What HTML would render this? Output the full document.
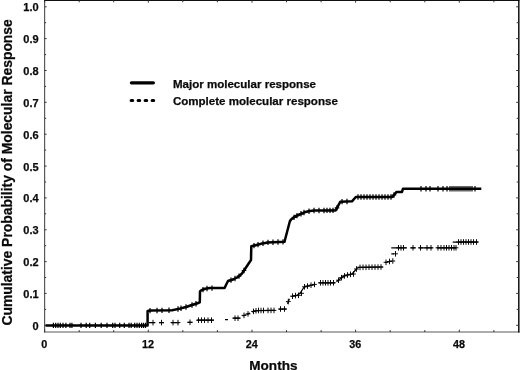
<!DOCTYPE html>
<html lang="en">
<head>
<meta charset="utf-8">
<title>Cumulative Probability of Molecular Response</title>
<style>
html,body{margin:0;padding:0;background:#fff;}
body{width:520px;height:370px;position:relative;overflow:hidden;font-family:"Liberation Sans",Arial,sans-serif;}
</style>
</head>
<body>
<svg width="520" height="370" viewBox="0 0 520 370" style="position:absolute;left:0;top:0">
<rect x="0" y="0" width="520" height="370" fill="#fff"/>
<line x1="44.6" y1="0" x2="44.6" y2="332.5" stroke="#5a5a5a" stroke-width="1.2"/>
<line x1="44" y1="332" x2="519.5" y2="332" stroke="#5a5a5a" stroke-width="1.2"/>
<line x1="44" y1="0.2" x2="519.5" y2="0.2" stroke="#111" stroke-width="1.4"/>
<line x1="518.8" y1="0" x2="518.8" y2="332.6" stroke="#111" stroke-width="1.5"/>
<path d="M44.6 325.3h2.0M518.8 325.3h-2.6M44.6 309.4h1.5M518.8 309.4h-2.1M44.6 293.4h2.0M518.8 293.4h-2.6M44.6 277.5h1.5M518.8 277.5h-2.1M44.6 261.6h2.0M518.8 261.6h-2.6M44.6 245.7h1.5M518.8 245.7h-2.1M44.6 229.8h2.0M518.8 229.8h-2.6M44.6 213.8h1.5M518.8 213.8h-2.1M44.6 197.9h2.0M518.8 197.9h-2.6M44.6 182.0h1.5M518.8 182.0h-2.1M44.6 166.1h2.0M518.8 166.1h-2.6M44.6 150.1h1.5M518.8 150.1h-2.1M44.6 134.2h2.0M518.8 134.2h-2.6M44.6 118.3h1.5M518.8 118.3h-2.1M44.6 102.3h2.0M518.8 102.3h-2.6M44.6 86.4h1.5M518.8 86.4h-2.1M44.6 70.5h2.0M518.8 70.5h-2.6M44.6 54.6h1.5M518.8 54.6h-2.1M44.6 38.6h2.0M518.8 38.6h-2.6M44.6 22.7h1.5M518.8 22.7h-2.1M44.6 6.8h2.0M518.8 6.8h-2.6M44.6 332v-2.3M44.6 0.4v2.3M79.2 332v-1.9M79.2 0.4v1.9M113.7 332v-1.9M113.7 0.4v1.9M148.3 332v-2.3M148.3 0.4v2.3M182.8 332v-1.9M182.8 0.4v1.9M217.4 332v-1.9M217.4 0.4v1.9M252.0 332v-2.3M252.0 0.4v2.3M286.5 332v-1.9M286.5 0.4v1.9M321.1 332v-1.9M321.1 0.4v1.9M355.6 332v-2.3M355.6 0.4v2.3M390.2 332v-1.9M390.2 0.4v1.9M424.8 332v-1.9M424.8 0.4v1.9M459.3 332v-2.3M459.3 0.4v2.3M493.9 332v-1.9M493.9 0.4v1.9" stroke="#333" stroke-width="1" fill="none"/>
<g font-family="'Liberation Sans', Arial, sans-serif" font-weight="700" fill="#0a0a0a" stroke="#0a0a0a" stroke-width="0.25">
<text x="38.6" y="329.7" font-size="11" text-anchor="end">0</text>
<text x="38.6" y="297.8" font-size="11" text-anchor="end">0.1</text>
<text x="38.6" y="266.0" font-size="11" text-anchor="end">0.2</text>
<text x="38.6" y="234.2" font-size="11" text-anchor="end">0.3</text>
<text x="38.6" y="202.3" font-size="11" text-anchor="end">0.4</text>
<text x="38.6" y="170.5" font-size="11" text-anchor="end">0.5</text>
<text x="38.6" y="138.6" font-size="11" text-anchor="end">0.6</text>
<text x="38.6" y="106.8" font-size="11" text-anchor="end">0.7</text>
<text x="38.6" y="74.9" font-size="11" text-anchor="end">0.8</text>
<text x="38.6" y="43.0" font-size="11" text-anchor="end">0.9</text>
<text x="38.6" y="11.2" font-size="11" text-anchor="end">1.0</text>
<text x="44.3" y="347.7" font-size="10.8" text-anchor="middle">0</text>
<text x="148.0" y="347.7" font-size="10.8" text-anchor="middle">12</text>
<text x="251.7" y="347.7" font-size="10.8" text-anchor="middle">24</text>
<text x="355.3" y="347.7" font-size="10.8" text-anchor="middle">36</text>
<text x="459.0" y="347.7" font-size="10.8" text-anchor="middle">48</text>
<text x="273.4" y="369.6" font-size="13.55" text-anchor="middle">Months</text>
<text transform="translate(11.6 172.4) rotate(-90)" font-size="13.9" text-anchor="middle">Cumulative Probability of Molecular Response</text>
<text x="172.9" y="87.6" font-size="11.55">Major molecular response</text>
<text x="172.9" y="105" font-size="11.55">Complete molecular response</text>
</g>
<line x1="131.4" y1="82.8" x2="153.4" y2="82.8" stroke="#000" stroke-width="3.2" stroke-linecap="round"/>
<line x1="131.1" y1="100.6" x2="153.8" y2="100.6" stroke="#000" stroke-width="3" stroke-linecap="round" stroke-dasharray="1.6 5.4"/>
<polyline points="45.6,325.4 147.6,325.4 147.6,311.0 150.0,310.6 172.0,310.3 180.0,308.6 186.0,307.0 192.0,305.0 198.0,303.0 199.8,302.3 200.0,291.2 202.0,290.0 205.0,288.7 210.0,288.1 224.6,288.1 226.0,285.0 228.0,281.0 233.0,279.5 238.0,277.0 242.0,273.5 251.0,260.0 251.3,246.3 262.6,243.4 268.0,242.4 284.5,241.8 289.8,221.5 291.0,219.5 296.0,216.0 304.5,212.3 310.0,211.0 314.0,210.5 335.6,210.4 340.4,201.7 352.0,201.3 355.8,197.0 392.3,197.0 396.6,191.9 402.0,191.9 403.0,188.7 481.3,188.7" fill="none" stroke="#000" stroke-width="2.5" stroke-linejoin="round"/>
<path d="M149.0 322.6L155.0 322.6M159.0 322.6L164.0 322.6M171.0 322.6L179.0 322.6M187.5 322.3L192.5 322.3M197.0 320.2L214.0 320.2M225.0 319.6L228.0 319.6M232.7 318.2L240.4 318.2M242.5 315.8L246.0 314.8M246.5 314.4L250.0 313.2M252.0 311.8L257.0 310.5M257.0 310.5L275.0 310.4M278.8 309.0L286.5 309.0M287.5 303.7L289.4 298.8M291.3 296.5L297.0 295.3M297.0 295.3L300.0 293.3M300.0 293.3L302.5 289.5M302.5 289.5L304.3 286.8M304.3 286.8L315.0 284.3M318.7 282.8L335.0 282.8M336.5 281.8L343.7 275.9M343.7 275.9L352.0 274.0M352.0 274.0L357.4 268.0M357.4 267.4L383.0 267.0M385.0 262.5L391.7 261.0M391.3 253.8L394.0 253.8M391.3 247.8L407.0 247.8M410.4 247.8L415.7 247.8M418.8 247.8L432.6 247.8M436.8 247.8L455.9 247.8M452.7 242.0L478.0 242.0" fill="none" stroke="#000" stroke-width="1.25"/>
<path d="M53.4 322.7v5.4M51.1 325.4h4.6M55.7 322.7v5.4M53.4 325.4h4.6M58.0 322.7v5.4M55.7 325.4h4.6M60.3 322.7v5.4M58.0 325.4h4.6M63.0 322.7v5.4M60.7 325.4h4.6M65.9 322.7v5.4M63.6 325.4h4.6M70.0 322.7v5.4M67.7 325.4h4.6M71.9 322.7v5.4M69.6 325.4h4.6M81.0 322.7v5.4M78.7 325.4h4.6M86.2 322.7v5.4M83.9 325.4h4.6M89.7 322.7v5.4M87.4 325.4h4.6M95.4 322.7v5.4M93.1 325.4h4.6M101.2 322.7v5.4M98.9 325.4h4.6M107.0 322.7v5.4M104.7 325.4h4.6M112.7 322.7v5.4M110.4 325.4h4.6M115.0 322.7v5.4M112.7 325.4h4.6M119.7 322.7v5.4M117.4 325.4h4.6M124.3 322.7v5.4M122.0 325.4h4.6M129.0 322.7v5.4M126.7 325.4h4.6M131.2 322.7v5.4M128.9 325.4h4.6M134.7 322.7v5.4M132.4 325.4h4.6M137.0 322.7v5.4M134.7 325.4h4.6M139.3 322.7v5.4M137.0 325.4h4.6M141.6 322.7v5.4M139.3 325.4h4.6M143.5 322.7v5.4M141.2 325.4h4.6M145.5 322.7v5.4M143.2 325.4h4.6M150.0 307.9v5.4M147.7 310.6h4.6M157.0 307.8v5.4M154.7 310.5h4.6M162.0 307.7v5.4M159.7 310.4h4.6M169.0 307.6v5.4M166.7 310.3h4.6M178.0 306.3v5.4M175.7 309.0h4.6M181.0 305.6v5.4M178.7 308.3h4.6M186.0 304.3v5.4M183.7 307.0h4.6M192.0 302.3v5.4M189.7 305.0h4.6M196.0 301.0v5.4M193.7 303.7h4.6M203.0 286.9v5.4M200.7 289.6h4.6M207.0 285.8v5.4M204.7 288.5h4.6M212.0 285.4v5.4M209.7 288.1h4.6M231.0 277.4v5.4M228.7 280.1h4.6M235.0 275.8v5.4M232.7 278.5h4.6M239.0 273.4v5.4M236.7 276.1h4.6M244.0 267.8v5.4M241.7 270.5h4.6M254.0 242.9v5.4M251.7 245.6h4.6M258.0 241.9v5.4M255.7 244.6h4.6M263.0 240.6v5.4M260.7 243.3h4.6M268.0 239.7v5.4M265.7 242.4h4.6M273.0 239.5v5.4M270.7 242.2h4.6M278.0 239.3v5.4M275.7 242.0h4.6M283.0 239.2v5.4M280.7 241.9h4.6M294.0 214.7v5.4M291.7 217.4h4.6M297.0 212.9v5.4M294.7 215.6h4.6M301.0 211.1v5.4M298.7 213.8h4.6M304.0 209.8v5.4M301.7 212.5h4.6M309.0 208.5v5.4M306.7 211.2h4.6M314.0 207.8v5.4M311.7 210.5h4.6M319.0 207.8v5.4M316.7 210.5h4.6M324.0 207.8v5.4M321.7 210.5h4.6M327.0 207.7v5.4M324.7 210.4h4.6M330.0 207.7v5.4M327.7 210.4h4.6M333.0 207.7v5.4M330.7 210.4h4.6M337.0 205.2v5.4M334.7 207.9h4.6M342.0 198.9v5.4M339.7 201.6h4.6M347.0 198.8v5.4M344.7 201.5h4.6M358.0 194.3v5.4M355.7 197.0h4.6M361.0 194.3v5.4M358.7 197.0h4.6M364.0 194.3v5.4M361.7 197.0h4.6M367.0 194.3v5.4M364.7 197.0h4.6M370.0 194.3v5.4M367.7 197.0h4.6M373.0 194.3v5.4M370.7 197.0h4.6M376.0 194.3v5.4M373.7 197.0h4.6M379.0 194.3v5.4M376.7 197.0h4.6M382.0 194.3v5.4M379.7 197.0h4.6M385.0 194.3v5.4M382.7 197.0h4.6M388.0 194.3v5.4M385.7 197.0h4.6M391.0 194.3v5.4M388.7 197.0h4.6M394.0 192.3v5.4M391.7 195.0h4.6M421.0 186.0v5.4M418.7 188.7h4.6M426.0 186.0v5.4M423.7 188.7h4.6M430.0 186.0v5.4M427.7 188.7h4.6M438.0 186.0v5.4M435.7 188.7h4.6M443.0 186.0v5.4M440.7 188.7h4.6M447.0 186.0v5.4M444.7 188.7h4.6M450.0 186.0v5.4M447.7 188.7h4.6M452.0 186.0v5.4M449.7 188.7h4.6M454.0 186.0v5.4M451.7 188.7h4.6M456.0 186.0v5.4M453.7 188.7h4.6M458.0 186.0v5.4M455.7 188.7h4.6M460.0 186.0v5.4M457.7 188.7h4.6M462.0 186.0v5.4M459.7 188.7h4.6M464.0 186.0v5.4M461.7 188.7h4.6M466.0 186.0v5.4M463.7 188.7h4.6M468.0 186.0v5.4M465.7 188.7h4.6M470.0 186.0v5.4M467.7 188.7h4.6M472.0 186.0v5.4M469.7 188.7h4.6M475.0 186.0v5.4M472.7 188.7h4.6" fill="none" stroke="#000" stroke-width="1.2"/>
<path d="M153.0 319.8v5.6M150.6 322.6h4.8M161.5 319.8v5.6M159.1 322.6h4.8M173.0 319.8v5.6M170.6 322.6h4.8M178.0 319.8v5.6M175.6 322.6h4.8M190.0 319.5v5.6M187.6 322.3h4.8M198.5 317.4v5.6M196.1 320.2h4.8M201.5 317.4v5.6M199.1 320.2h4.8M204.5 317.4v5.6M202.1 320.2h4.8M208.0 317.4v5.6M205.6 320.2h4.8M211.5 317.4v5.6M209.1 320.2h4.8M235.0 315.4v5.6M232.6 318.2h4.8M238.0 315.4v5.6M235.6 318.2h4.8M244.0 312.6v5.6M241.6 315.4h4.8M248.0 311.1v5.6M245.6 313.9h4.8M253.5 308.6v5.6M251.1 311.4h4.8M256.0 308.0v5.6M253.6 310.8h4.8M258.5 307.7v5.6M256.1 310.5h4.8M261.0 307.7v5.6M258.6 310.5h4.8M263.5 307.7v5.6M261.1 310.5h4.8M268.0 307.6v5.6M265.6 310.4h4.8M271.0 307.6v5.6M268.6 310.4h4.8M274.0 307.6v5.6M271.6 310.4h4.8M280.5 306.2v5.6M278.1 309.0h4.8M284.5 306.2v5.6M282.1 309.0h4.8M288.3 298.8v5.6M285.9 301.6h4.8M292.5 293.4v5.6M290.1 296.2h4.8M295.5 292.8v5.6M293.1 295.6h4.8M298.5 292.5v5.6M296.1 295.3h4.8M301.5 290.5v5.6M299.1 293.3h4.8M304.5 284.0v5.6M302.1 286.8h4.8M307.5 283.3v5.6M305.1 286.1h4.8M311.0 282.4v5.6M308.6 285.2h4.8M314.5 281.6v5.6M312.1 284.4h4.8M320.5 280.0v5.6M318.1 282.8h4.8M323.0 280.0v5.6M320.6 282.8h4.8M325.5 280.0v5.6M323.1 282.8h4.8M328.0 280.0v5.6M325.6 282.8h4.8M330.5 280.0v5.6M328.1 282.8h4.8M333.5 280.0v5.6M331.1 282.8h4.8M338.5 277.4v5.6M336.1 280.2h4.8M341.5 274.9v5.6M339.1 277.7h4.8M344.5 273.1v5.6M342.1 275.9h4.8M347.5 272.2v5.6M345.1 275.0h4.8M350.5 271.5v5.6M348.1 274.3h4.8M353.5 271.2v5.6M351.1 274.0h4.8M356.5 266.2v5.6M354.1 269.0h4.8M360.0 264.6v5.6M357.6 267.4h4.8M363.0 264.5v5.6M360.6 267.3h4.8M366.0 264.5v5.6M363.6 267.3h4.8M369.0 264.4v5.6M366.6 267.2h4.8M372.0 264.4v5.6M369.6 267.2h4.8M375.0 264.3v5.6M372.6 267.1h4.8M378.0 264.3v5.6M375.6 267.1h4.8M381.0 264.2v5.6M378.6 267.0h4.8M386.0 259.5v5.6M383.6 262.3h4.8M389.5 258.7v5.6M387.1 261.5h4.8M392.8 258.2v5.6M390.4 261.0h4.8M395.5 251.0v5.6M393.1 253.8h4.8M398.5 245.0v5.6M396.1 247.8h4.8M401.0 245.0v5.6M398.6 247.8h4.8M403.5 245.0v5.6M401.1 247.8h4.8M413.0 245.0v5.6M410.6 247.8h4.8M420.5 245.0v5.6M418.1 247.8h4.8M427.0 245.0v5.6M424.6 247.8h4.8M431.0 245.0v5.6M428.6 247.8h4.8M438.0 245.0v5.6M435.6 247.8h4.8M441.0 245.0v5.6M438.6 247.8h4.8M444.0 245.0v5.6M441.6 247.8h4.8M446.5 245.0v5.6M444.1 247.8h4.8M449.0 245.0v5.6M446.6 247.8h4.8M451.5 245.0v5.6M449.1 247.8h4.8M454.0 245.0v5.6M451.6 247.8h4.8M456.0 245.0v5.6M453.6 247.8h4.8M458.5 239.2v5.6M456.1 242.0h4.8M461.0 239.2v5.6M458.6 242.0h4.8M463.5 239.2v5.6M461.1 242.0h4.8M466.0 239.2v5.6M463.6 242.0h4.8M468.5 239.2v5.6M466.1 242.0h4.8M471.0 239.2v5.6M468.6 242.0h4.8M473.5 239.2v5.6M471.1 242.0h4.8M476.5 239.2v5.6M474.1 242.0h4.8" fill="none" stroke="#000" stroke-width="0.95"/>
</svg>
</body>
</html>
